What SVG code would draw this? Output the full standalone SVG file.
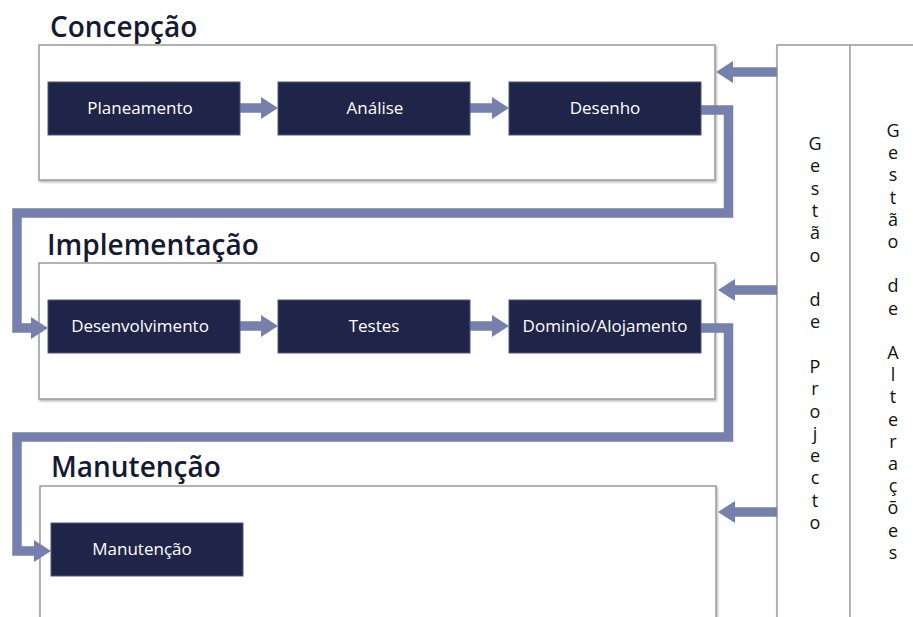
<svg xmlns="http://www.w3.org/2000/svg" width="913" height="617" viewBox="0 0 913 617">
<style>
.frame{fill:#fff;stroke:#9a9a9a;stroke-width:1.5;filter:url(#sh)}
.node{fill:#1f2548;stroke:#4d5685;stroke-width:1}
.ntext{fill:#fff;font-family:"Open Sans","Noto Sans",sans-serif;font-size:17px;text-anchor:middle}
.title{fill:#151a33;font-family:"Open Sans","Noto Sans",sans-serif;font-size:28px;font-weight:600}
.conn{fill:none;stroke:#7680ac;stroke-width:9.5;stroke-linejoin:miter;marker-end:url(#ah)}
.vtext{fill:#111;font-family:"Open Sans","Noto Sans",sans-serif;font-size:18px;text-anchor:middle}
</style>
<defs>
<filter id="sh" x="-5%" y="-5%" width="110%" height="110%">
<feDropShadow dx="1" dy="1.5" stdDeviation="1" flood-color="#000" flood-opacity="0.3"/>
</filter>
<marker id="ah" markerUnits="userSpaceOnUse" markerWidth="18" markerHeight="24" viewBox="0 0 18 24" refX="1" refY="12" orient="auto">
<path d="M0,1 L17,12 L0,23 z" fill="#7680ac"/>
</marker>
</defs>

<g id="panel">
<rect class="frame" x="777" y="45" width="150" height="590"/>
<line x1="850" y1="45" x2="850" y2="617" stroke="#9a9a9a" stroke-width="1.5"/>
</g>

<g id="concepcao">
<text class="title" x="50" y="37">Concepção</text>
<rect class="frame" x="39" y="45" width="676" height="135"/>
</g>
<g id="implementacao">
<text class="title" x="47" y="255">Implementação</text>
<rect class="frame" x="39" y="263" width="676" height="136"/>
</g>
<g id="manutencao-fase">
<text class="title" x="51" y="477">Manutenção</text>
<rect class="frame" x="40" y="486" width="676" height="160"/>
</g>

<g id="connectors">
<line class="conn" x1="240" y1="108" x2="262" y2="108"/>
<line class="conn" x1="470" y1="108" x2="493" y2="108"/>
<polyline class="conn" points="701,110 728.5,110 728.5,213 17,213 17,328 32,328"/>
<line class="conn" x1="240" y1="326" x2="262" y2="326"/>
<line class="conn" x1="470" y1="326" x2="493" y2="326"/>
<polyline class="conn" points="701,328 728.5,328 728.5,437 17,437 17,551 35,551"/>
<line class="conn" x1="777" y1="72" x2="732" y2="72"/>
<line class="conn" x1="777" y1="290" x2="734" y2="290"/>
<line class="conn" x1="777" y1="512" x2="734" y2="512"/>
</g>

<g id="planeamento"><rect class="node" x="48" y="82" width="192" height="53"/><text class="ntext" x="140" y="114">Planeamento</text></g>
<g id="analise"><rect class="node" x="278" y="82" width="192" height="53"/><text class="ntext" x="375" y="114">Análise</text></g>
<g id="desenho"><rect class="node" x="509" y="82" width="192" height="53"/><text class="ntext" x="605" y="114">Desenho</text></g>

<g id="desenvolvimento"><rect class="node" x="48" y="300" width="192" height="53"/><text class="ntext" x="140" y="332">Desenvolvimento</text></g>
<g id="testes"><rect class="node" x="278" y="300" width="192" height="53"/><text class="ntext" x="374" y="332">Testes</text></g>
<g id="dominio"><rect class="node" x="509" y="300" width="192" height="53"/><text class="ntext" x="605" y="332">Dominio/Alojamento</text></g>

<g id="manutencao"><rect class="node" x="51" y="523" width="192" height="53"/><text class="ntext" x="142" y="555">Manutenção</text></g>

<g id="gestao-projecto">
<text class="vtext" x="815" y="150">G<tspan x="815" dy="22.3">e</tspan><tspan x="815" dy="22.3">s</tspan><tspan x="815" dy="22.3">t</tspan><tspan x="815" dy="22.3">ã</tspan><tspan x="815" dy="22.3">o</tspan><tspan x="815" dy="44.6">d</tspan><tspan x="815" dy="22.3">e</tspan><tspan x="815" dy="44.6">P</tspan><tspan x="815" dy="22.3">r</tspan><tspan x="815" dy="22.3">o</tspan><tspan x="815" dy="22.3">j</tspan><tspan x="815" dy="22.3">e</tspan><tspan x="815" dy="22.3">c</tspan><tspan x="815" dy="22.3">t</tspan><tspan x="815" dy="22.3">o</tspan></text>
</g>
<g id="gestao-alteracoes">
<text class="vtext" x="893" y="137">G<tspan x="893" dy="22.2">e</tspan><tspan x="893" dy="22.2">s</tspan><tspan x="893" dy="22.2">t</tspan><tspan x="893" dy="22.2">ã</tspan><tspan x="893" dy="22.2">o</tspan><tspan x="893" dy="44.4">d</tspan><tspan x="893" dy="22.2">e</tspan><tspan x="893" dy="44.4">A</tspan><tspan x="893" dy="22.2">l</tspan><tspan x="893" dy="22.2">t</tspan><tspan x="893" dy="22.2">e</tspan><tspan x="893" dy="22.2">r</tspan><tspan x="893" dy="22.2">a</tspan><tspan x="893" dy="22.2">ç</tspan><tspan x="893" dy="22.2">õ</tspan><tspan x="893" dy="22.2">e</tspan><tspan x="893" dy="22.2">s</tspan></text>
</g>
</svg>
